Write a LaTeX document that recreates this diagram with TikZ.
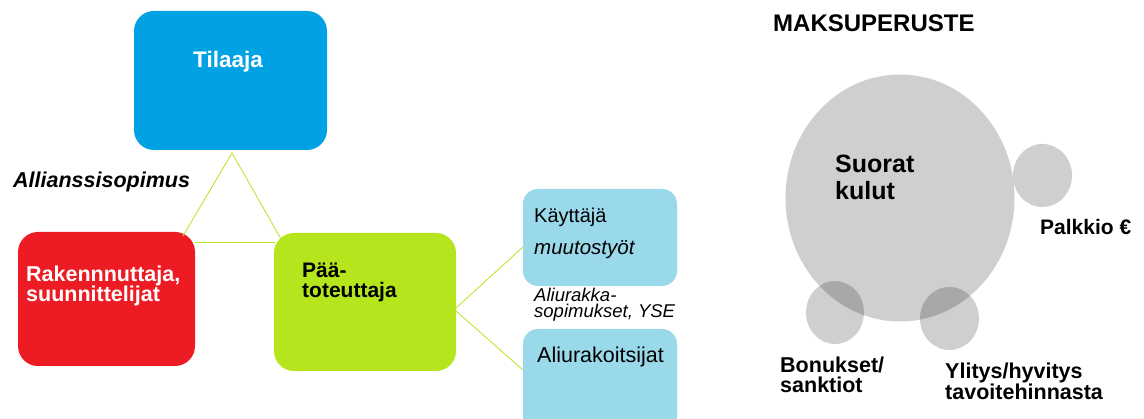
\documentclass[tikz,border=0pt]{standalone}
\usepackage{fontspec}
\setmainfont{Liberation Sans}
\begin{document}
\begin{tikzpicture}[x=1pt,y=-1pt,
  box/.style={draw=none,rounded corners=20pt,inner sep=0pt},
  lbox/.style={draw=none,rounded corners=15pt,inner sep=0pt},
  txt/.style={anchor=base west,inner sep=0pt,align=left},
  link/.style={draw=linkgreen,line width=0.8pt},
  disc/.style={fill=black,fill opacity=0.19,draw=none}]
\definecolor{tblue}{HTML}{00A2E4}
\definecolor{tred}{HTML}{ED1C24}
\definecolor{tgreen}{HTML}{B5E61D}
\definecolor{tlight}{HTML}{99D9EA}
\definecolor{linkgreen}{HTML}{B5E61D}
\fill[white] (0,0) rectangle (1144,419);
\useasboundingbox (0,0) rectangle (1144,419);

% boxes
\fill[tblue,rounded corners=20pt] (134,11) rectangle (327,150);
\node[box,minimum width=193pt,minimum height=139pt] (tilaaja) at (230.5,80.5) {};
\fill[tred,rounded corners=20pt] (18,232) rectangle (195,366);
\node[box,minimum width=177pt,minimum height=134pt] (rak) at (106.5,299) {};
\fill[tgreen,rounded corners=20pt] (274,233) rectangle (456,371);
\node[box,minimum width=182pt,minimum height=138pt] (paa) at (365,302) {};
\fill[tlight,rounded corners=15pt] (523,189) rectangle (677,286);
\node[lbox,minimum width=154pt,minimum height=97pt] (kay) at (600,237.5) {};
\fill[tlight,rounded corners=15pt] (523,329) rectangle (677,432);
\node[lbox,minimum width=154pt,minimum height=103pt] (ali) at (600,380.5) {};

% connector points
\coordinate (apex) at (232,153);
\coordinate (tl) at (183,236);
\coordinate (tr) at (281,239);
\coordinate (hl) at (195,242);
\coordinate (hr) at (275,242);
\coordinate (g1) at (456,308);
\coordinate (g2) at (456,311);
\coordinate (k1) at (523,247);
\coordinate (a1) at (523,370);
\draw[link] (tl) -- (apex) -- (tr);
\draw[link] (hl) -- (hr);
\draw[link] (g1) -- (k1);
\draw[link] (g2) -- (a1);

% box texts (multi-line nodes: anchor is the baseline of the last line)
\node[txt,text=white,font=\bfseries\fontsize{22.5}{22.5}\selectfont] (t1) at (193,68) {Tilaaja};
\node[txt,text=white,font=\bfseries\fontsize{21.5}{20.5}\selectfont] (t2) at (26,302) {Rakennnuttaja,\\suunnittelijat};
\node[txt,font=\bfseries\fontsize{21}{20.5}\selectfont] (t3) at (302,298) {Pää-\\toteuttaja};
\node[txt,font=\fontsize{20}{20}\selectfont] (t4) at (534,223) {Käyttäjä};
\node[txt,font=\itshape\fontsize{20.5}{20.5}\selectfont] (t5) at (534,255) {muutostyöt};
\node[txt,font=\fontsize{21.5}{21.5}\selectfont] (t6) at (537,363) {Aliurakoitsijat};
\node[txt,font=\itshape\fontsize{18.5}{16.5}\selectfont] (t7) at (534,318) {Aliurakka-\\sopimukset, YSE};
\node[txt,font=\bfseries\itshape\fontsize{21.5}{21.5}\selectfont] (t8) at (13,188) {Allianssisopimus};

% right part
\node[txt,font=\bfseries\fontsize{24}{24}\selectfont] (m) at (773,32) {MAKSUPERUSTE};
\path[disc] (900,198) ellipse [x radius=114.5pt,y radius=123.5pt];
\path[disc] (1042.5,175.5) ellipse [x radius=29.5pt,y radius=31.5pt];
\path[disc] (835,312.5) ellipse [x radius=29pt,y radius=31.5pt];
\path[disc] (949.5,318.5) ellipse [x radius=29.5pt,y radius=31.5pt];
\node[txt,font=\bfseries\fontsize{25}{27}\selectfont] (s) at (835,200) {Suorat\\kulut};
\node[txt,font=\bfseries\fontsize{21}{21}\selectfont] (p) at (1040,235) {Palkkio €};
\node[txt,font=\bfseries\fontsize{21.5}{20}\selectfont] (b) at (780,393) {Bonukset/\\sanktiot};
\node[txt,font=\bfseries\fontsize{21.5}{19}\selectfont] (y) at (945,400) {Ylitys/hyvitys\\tavoitehinnasta};
\end{tikzpicture}
\end{document}
